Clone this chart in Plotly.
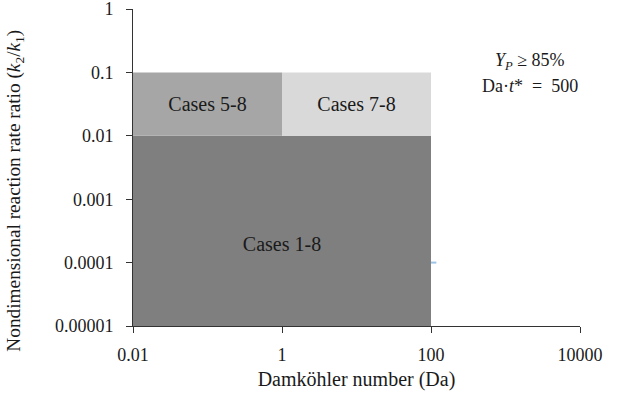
import plotly.graph_objects as go

# Regions (Damköhler range, rate-ratio range)
region_labels = ["Cases 1-8", "Cases 5-8", "Cases 7-8"]
region_da_min = [0.01, 0.01, 1]
region_da_max = [100, 1, 100]
region_k_min = [0.00001, 0.01, 0.01]
region_k_max = [0.01, 0.1, 0.1]
region_colors = ["#7f7f7f", "#a6a6a6", "#d9d9d9"]
label_da = [1, 0.1, 10]
label_k = [0.00018, 0.029, 0.029]

# small stray series mark
stray_da = [100, 118]
stray_k = [0.0001, 0.0001]

x_ticks = [0.01, 1, 100, 10000]
x_tick_text = ["0.01", "1", "100", "10000"]
y_ticks = [0.00001, 0.0001, 0.001, 0.01, 0.1, 1]
y_tick_text = ["0.00001", "0.0001", "0.001", "0.01", "0.1", "1"]

FONT = "Liberation Serif"
TXT = "#1a1a1a"

fig = go.Figure()
for i in range(len(region_labels)):
    x0, x1 = region_da_min[i], region_da_max[i]
    y0, y1 = region_k_min[i], region_k_max[i]
    fig.add_trace(go.Scatter(
        x=[x0, x1, x1, x0, x0], y=[y0, y0, y1, y1, y0],
        mode="lines", fill="toself", fillcolor=region_colors[i],
        line=dict(width=0, color=region_colors[i]), hoverinfo="skip", showlegend=False))

fig.add_trace(go.Scatter(x=stray_da, y=stray_k, mode="lines",
                         line=dict(color="#9dc3e6", width=2), showlegend=False))

fig.add_trace(go.Scatter(x=label_da, y=label_k, mode="text", text=region_labels,
                         textfont=dict(family=FONT, size=20, color=TXT),
                         showlegend=False))

fig.add_annotation(xref="paper", yref="paper", x=0.888, y=0.835, showarrow=False,
                   xanchor="center", yanchor="middle",
                   text="<i>Y<sub>P</sub></i> ≥ 85%",
                   font=dict(family=FONT, size=18, color=TXT))
fig.add_annotation(xref="paper", yref="paper", x=0.888, y=0.757, showarrow=False,
                   xanchor="center", yanchor="middle",
                   text="Da·<i>t</i>*  =  500",
                   font=dict(family=FONT, size=18, color=TXT))

# y-axis title as an annotation (offset downward as in the reference)
fig.add_annotation(xref="paper", yref="paper", x=-0.264, y=0.427, showarrow=False,
                   xanchor="center", yanchor="middle", textangle=-90,
                   text="Nondimensional reaction rate ratio (<i>k</i><sub>2</sub>/<i>k</i><sub>1</sub>)",
                   font=dict(family=FONT, size=19.3, color=TXT))

axis_common = dict(showgrid=False, zeroline=False, showline=True, linecolor="#333333",
                   linewidth=1, ticks="outside", ticklen=6, tickcolor="#333333",
                   ticklabeloverflow="allow", automargin=False,
                   tickfont=dict(family=FONT, size=18, color=TXT))

fig.update_xaxes(type="log", range=[-2, 4], tickvals=x_ticks, ticktext=x_tick_text,
                 ticklabelstandoff=6,
                 title=dict(text="Damköhler number (Da)", font=dict(family=FONT, size=20, color=TXT),
                            standoff=8),
                 **axis_common)
fig.update_yaxes(type="log", range=[-5, 0], tickvals=y_ticks, ticktext=y_tick_text,
                 ticklabelstandoff=9,
                 **axis_common)

fig.update_layout(width=617, height=398, margin=dict(l=133, r=37, t=9, b=72),
                  plot_bgcolor="white", paper_bgcolor="white")

fig.write_html("out.html")
